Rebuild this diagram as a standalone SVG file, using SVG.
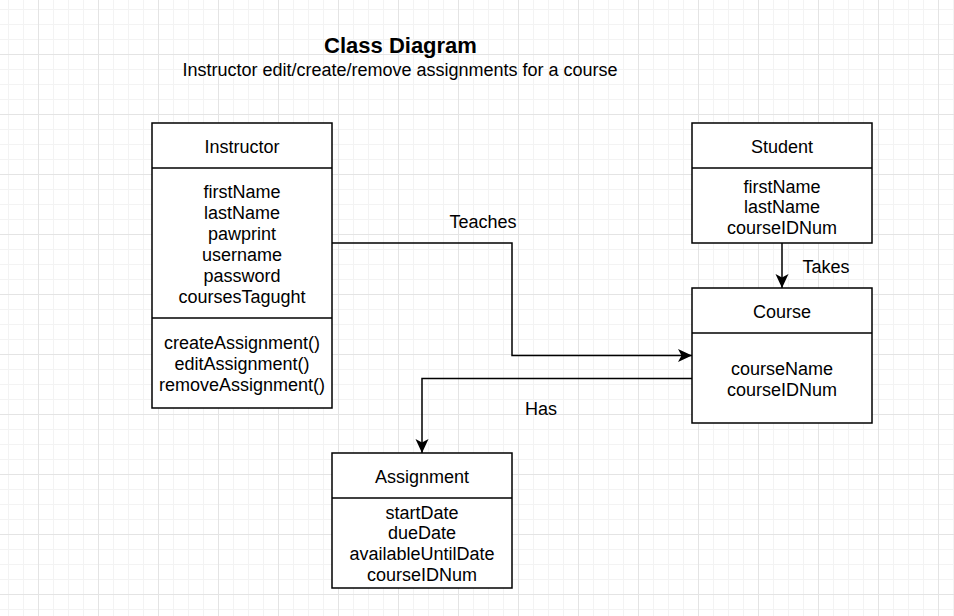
<svg xmlns="http://www.w3.org/2000/svg" width="954" height="616" viewBox="0 0 954 616">
  <defs>
    <pattern id="grid" patternUnits="userSpaceOnUse" x="38" y="54" width="60" height="60">
      <g stroke="#f3f3f3" stroke-width="1">
        <line x1="15.5" y1="0" x2="15.5" y2="60"/>
        <line x1="30.5" y1="0" x2="30.5" y2="60"/>
        <line x1="45.5" y1="0" x2="45.5" y2="60"/>
        <line x1="0" y1="15.5" x2="60" y2="15.5"/>
        <line x1="0" y1="30.5" x2="60" y2="30.5"/>
        <line x1="0" y1="45.5" x2="60" y2="45.5"/>
      </g>
      <g stroke="#e4e4e4" stroke-width="1">
        <line x1="0.5" y1="0" x2="0.5" y2="60"/>
        <line x1="0" y1="0.5" x2="60" y2="0.5"/>
      </g>
    </pattern>
    <marker id="arrow" viewBox="0 0 14 14" refX="14" refY="7" markerWidth="14" markerHeight="14" markerUnits="userSpaceOnUse" orient="auto">
      <path d="M14,7 L0,0.5 L3.5,7 L0,13.5 Z" fill="#000"/>
    </marker>
    <style>
      .box { fill: #fff; stroke: #000; stroke-width: 1.5; }
      .div { stroke: #000; stroke-width: 1.5; }
      .t { font-family: "Liberation Sans", Arial, Helvetica, sans-serif; font-size: 18px; fill: #000; text-anchor: middle; }
      .title { font-family: "Liberation Sans", Arial, Helvetica, sans-serif; font-size: 22px; font-weight: bold; fill: #000; text-anchor: middle; }
      .edge { fill: none; stroke: #000; stroke-width: 1.5; }
    </style>
  </defs>
  <rect width="954" height="616" fill="#fff"/>
  <rect width="954" height="616" fill="url(#grid)"/>

  <g id="title">
    <text class="title" x="400.5" y="53">Class Diagram</text>
    <text class="t" x="400" y="76">Instructor edit/create/remove assignments for a course</text>
  </g>

  <g id="connectors">
    <path class="edge" d="M332,243 H512 V355.5 H692" marker-end="url(#arrow)"/>
    <path class="edge" d="M782,243 V288" marker-end="url(#arrow)"/>
    <path class="edge" d="M692,378.5 H422 V453" marker-end="url(#arrow)"/>
    <text class="t" x="483" y="228">Teaches</text>
    <text class="t" x="826" y="273">Takes</text>
    <text class="t" x="541" y="415">Has</text>
  </g>

  <g id="instructor">
    <rect class="box" x="152" y="123" width="180" height="285"/>
    <line class="div" x1="152" y1="168" x2="332" y2="168"/>
    <line class="div" x1="152" y1="318" x2="332" y2="318"/>
    <text class="t" x="242" y="153">Instructor</text>
    <text class="t" x="242" y="198.2">firstName</text>
    <text class="t" x="242" y="219.1">lastName</text>
    <text class="t" x="242" y="240">pawprint</text>
    <text class="t" x="242" y="260.9">username</text>
    <text class="t" x="242" y="281.8">password</text>
    <text class="t" x="242" y="302.7">coursesTagught</text>
    <text class="t" x="242" y="349">createAssignment()</text>
    <text class="t" x="242" y="369.9">editAssignment()</text>
    <text class="t" x="242" y="390.8">removeAssignment()</text>
  </g>

  <g id="student">
    <rect class="box" x="692" y="123" width="180" height="120"/>
    <line class="div" x1="692" y1="168" x2="872" y2="168"/>
    <text class="t" x="782" y="153">Student</text>
    <text class="t" x="782" y="192.5">firstName</text>
    <text class="t" x="782" y="213.3">lastName</text>
    <text class="t" x="782" y="234">courseIDNum</text>
  </g>

  <g id="course">
    <rect class="box" x="692" y="288" width="180" height="135"/>
    <line class="div" x1="692" y1="333" x2="872" y2="333"/>
    <text class="t" x="782" y="318">Course</text>
    <text class="t" x="782" y="375">courseName</text>
    <text class="t" x="782" y="395.7">courseIDNum</text>
  </g>

  <g id="assignment">
    <rect class="box" x="332" y="453" width="180" height="135"/>
    <line class="div" x1="332" y1="498" x2="512" y2="498"/>
    <text class="t" x="422" y="483">Assignment</text>
    <text class="t" x="422" y="518.7">startDate</text>
    <text class="t" x="422" y="539.4">dueDate</text>
    <text class="t" x="422" y="560.1">availableUntilDate</text>
    <text class="t" x="422" y="580.8">courseIDNum</text>
  </g>
</svg>
